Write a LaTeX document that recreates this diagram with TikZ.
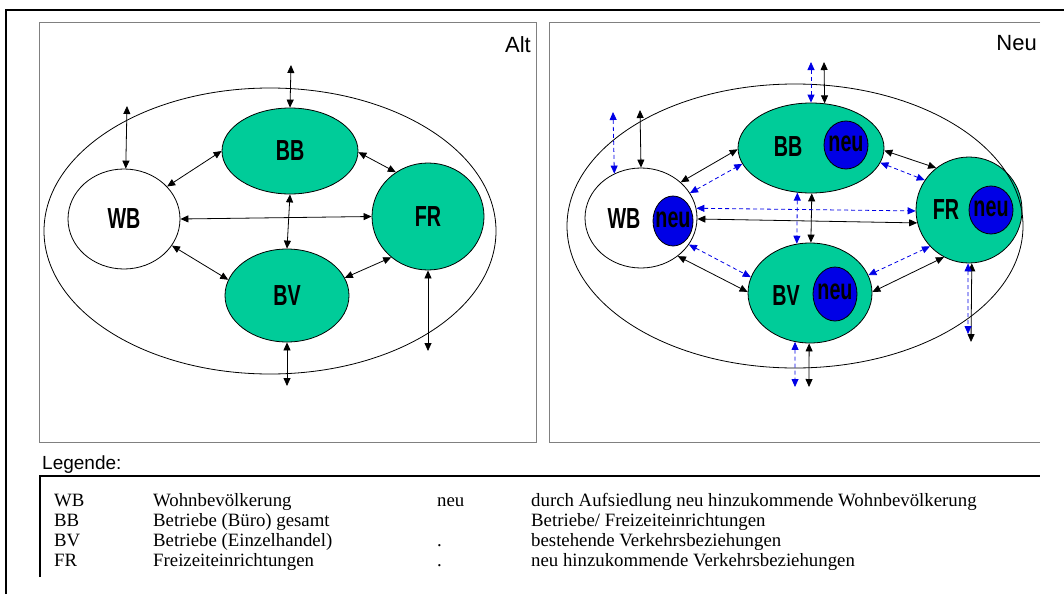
\documentclass[tikz,border=0pt]{standalone}
\usepackage{fontspec}
\setmainfont{Liberation Serif}
\newfontfamily\headfont{Liberation Sans}
\newfontfamily\tagfont{Liberation Sans}[FakeStretch=0.68]
\usetikzlibrary{shapes.geometric,arrows.meta}
\definecolor{feld}{RGB}{0,204,153}
\definecolor{neublau}{RGB}{0,0,230}
\definecolor{rahmen}{RGB}{128,128,128}

\begin{document}
\begin{tikzpicture}[x=1pt,y=-1pt,
  zone/.style={draw,ellipse,inner sep=0pt,line width=0.8pt},
  area/.style={zone,fill=feld},
  neubox/.style={zone,fill=neublau},
  tag/.style={inner sep=0pt,font=\tagfont\bfseries\fontsize{29}{29}\selectfont},
  head/.style={inner sep=0pt,font=\headfont\fontsize{22}{22}\selectfont},
  rel/.style={line width=0.8pt,{Triangle[length=8pt,width=7pt]}-{Triangle[length=8pt,width=7pt]}},
  relneu/.style={rel,neublau,dash pattern=on 4pt off 3pt},
  leg/.style={anchor=base west,inner sep=0pt,font=\fontsize{18.8}{20}\selectfont}]
\useasboundingbox (0,0) rectangle (1064,594);
\draw [line width=2pt] (6,594) -- (6,10) -- (1064,10);

% Alt
\draw [rahmen] (39,22) rectangle (536,442);
\node [head,anchor=east] (alt) at (531,45) {Alt};
\node [zone,minimum width=452pt,minimum height=286pt] (gebiet) at (270,231) {};
\node [zone,tag,minimum width=112pt,minimum height=100pt] (wb) at (124,219) {WB};
\node [area,tag,minimum width=136pt,minimum height=86pt] (bb) at (290,151) {BB};
\node [area,tag,minimum width=112pt,minimum height=107pt] (fr) at (428,216.5) {FR};
\node [area,tag,minimum width=124pt,minimum height=93pt] (bv) at (287,295.5) {BV};
\coordinate (bbout) at (291,65);
\coordinate (wbout) at (127,106);
\coordinate (frout) at (428,351);
\coordinate (bvout) at (287,386);
\draw [rel] (bbout) -- (bb.90);
\draw [rel] (wbout) -- (wb.88);
\draw [rel] (wb.37) -- (bb.180);
\draw [rel] (bb.359) -- (fr.126);
\draw [rel] (wb.0) -- (fr.180);
\draw [rel] (bb.270) -- (bv.90);
\draw [rel] (wb.331) -- (bv.165);
\draw [rel] (bv.17) -- (fr.228);
\draw [rel] (fr.270) -- (frout);
\draw [rel] (bv.270) -- (bvout);

% Neu
\draw [rahmen] (1040,22) -- (549,22) -- (549,442) -- (1040,442);
\node [head,anchor=east] (neu) at (1037,43) {Neu};
\node [zone,minimum width=112pt,minimum height=100pt] (wb2) at (641,218) {};
\node [area,minimum width=146pt,minimum height=90pt] (bb2) at (811,148) {};
\node [area,minimum width=106pt,minimum height=106pt] (fr2) at (969,210) {};
\node [area,minimum width=124pt,minimum height=100pt] (bv2) at (810,293) {};
\node [zone,minimum width=456pt,minimum height=284pt] (gebiet2) at (795,226) {};
\node [neubox,minimum width=40pt,minimum height=50pt] (wb2n) at (673,221) {};
\node [neubox,minimum width=44pt,minimum height=48pt] (bb2n) at (846,145) {};
\node [neubox,minimum width=44pt,minimum height=48pt] (fr2n) at (991,210) {};
\node [neubox,minimum width=44pt,minimum height=54pt] (bv2n) at (835,294) {};
\node [tag] (wb2t) at (624,219) {WB};
\node [tag] (bb2t) at (788,147) {BB};
\node [tag] (fr2t) at (946,210) {FR};
\node [tag] (bv2t) at (786,296) {BV};
\node [tag] (wb2nt) at (673,220) {neu};
\node [tag] (bb2nt) at (846,144) {neu};
\node [tag] (fr2nt) at (991,209) {neu};
\node [tag] (bv2nt) at (835,292) {neu};
\coordinate (bb2out) at (824,62);
\coordinate (bb2outn) at (811,62);
\coordinate (wb2out) at (640,110);
\coordinate (wb2outn) at (613,112);
\coordinate (fr2out) at (971,342);
\coordinate (fr2outn) at (968,334);
\coordinate (bv2out) at (809,387);
\coordinate (bv2outn) at (795,387);
% bestehende Beziehungen
\draw [rel] (bb2out) -- (bb2.73);
\draw [rel] (wb2out) -- (wb2.90);
\draw [rel] (wb2.42) -- (bb2.181);
\draw [rel] (bb2.358) -- (fr2.128);
\draw [rel] (wb2.359) -- (fr2.194);
\draw [rel] (bb2.271) -- (bv2.89);
\draw [rel] (wb2.314) -- (bv2.179);
\draw [rel] (bv2.1) -- (fr2.242);
\draw [rel] (fr2.273) -- (fr2out);
\draw [rel] (bv2.269) -- (bv2out);
% neue Beziehungen
\draw [relneu] (bb2outn) -- (bb2.90);
\draw [relneu] (wb2outn) -- (wb2.121);
\draw [relneu] (wb2.27) -- (bb2.193);
\draw [relneu] (bb2.348) -- (fr2.146);
\draw [relneu] (wb2.10) -- (fr2.181);
\draw [relneu] (bb2.253) -- (bv2.105);
\draw [relneu] (wb2.331) -- (bv2.165);
\draw [relneu] (bv2.17) -- (fr2.223);
\draw [relneu] (fr2.269) -- (fr2outn);
\draw [relneu] (bv2.253) -- (bv2outn);

% Legende
\node [head,anchor=base west,font=\headfont\fontsize{19}{19}\selectfont] (legende) at (42,469) {Legende:};
\draw [line width=2pt] (40,577) -- (40,476) -- (1040,476);
\node [leg] (k1) at (54,506) {WB};
\node [leg] (n1) at (153,506) {Wohnbevölkerung};
\node [leg] (s1) at (437,506) {neu};
\node [leg] (d1) at (531,506) {durch Aufsiedlung neu hinzukommende Wohnbevölkerung};
\node [leg] (k2) at (54,526) {BB};
\node [leg] (n2) at (153,526) {Betriebe (Büro) gesamt};
\node [leg] (d2) at (531,526) {Betriebe/ Freizeiteinrichtungen};
\node [leg] (k3) at (54,546) {BV};
\node [leg] (n3) at (153,546) {Betriebe (Einzelhandel)};
\node [leg] (s3) at (437,546) {.};
\node [leg] (d3) at (531,546) {bestehende Verkehrsbeziehungen};
\node [leg] (k4) at (54,566) {FR};
\node [leg] (n4) at (153,566) {Freizeiteinrichtungen};
\node [leg] (s4) at (437,566) {.};
\node [leg] (d4) at (531,566) {neu hinzukommende Verkehrsbeziehungen};
\end{tikzpicture}
\end{document}
